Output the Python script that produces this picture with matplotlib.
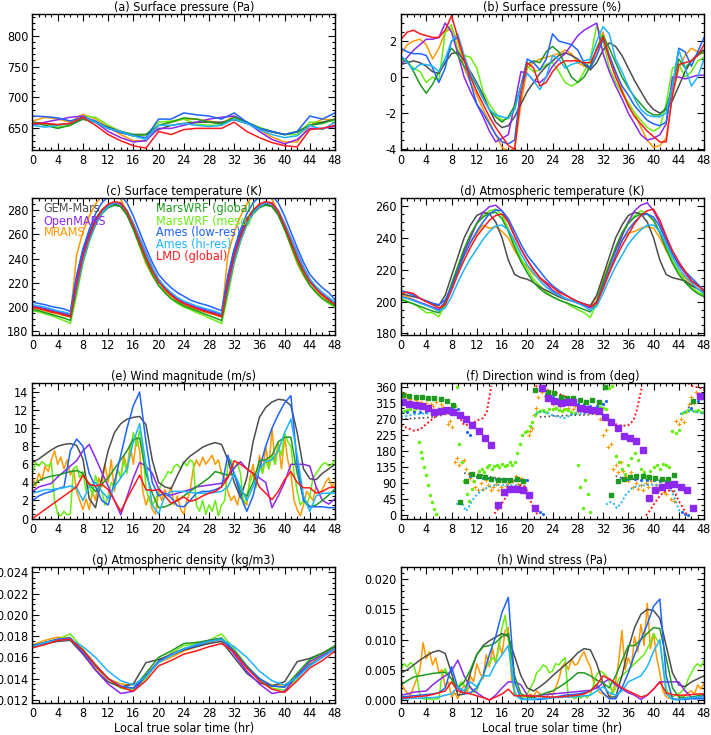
import numpy as np
import matplotlib
matplotlib.use('Agg')
from matplotlib import pyplot as plt
from matplotlib import font_manager
from matplotlib.ticker import MultipleLocator, FormatStrFormatter

# the reference uses a tall narrow font; use a narrow sans face when one is installed
narrow = []
for f in font_manager.fontManager.ttflist:
    st = str(f.stretch)
    if any(w in f.name for w in ('Mono', 'Serif', 'CJK', 'Math')):
        continue
    if str(f.weight) not in ('400', 'normal', 'regular') or f.style != 'normal':
        continue
    if 'Narrow' in f.name or 'Condensed' in f.name or st in ('condensed', 'semi-condensed'):
        narrow.append(f)
narrow.sort(key=lambda f: (f.name != 'Liberation Sans Narrow', f.name != 'DejaVu Sans', f.name))
if narrow:
    plt.rcParams['font.family'] = [narrow[0].name, 'DejaVu Sans']
    plt.rcParams['font.stretch'] = narrow[0].stretch
    fs = 9.5 if narrow[0].name == 'Liberation Sans Narrow' else 9
    legend_fs = fs
else:
    plt.rcParams['font.family'] = ['DejaVu Sans']
    fs = 8
    legend_fs = 7.3
plt.rcParams['axes.unicode_minus'] = False

models = ['GEM-Mars', 'OpenMARS', 'MRAMS', 'MarsWRF (global)', 'MarsWRF (meso)',
          'Ames (low-res)', 'Ames (hi-res)', 'LMD (global)']
colors = ['#4d4d4d', '#8c28f0', '#ff9900', '#1e9a1e', '#66ee11', '#1e64ff', '#1eb4ff', '#ff1a1a']

hours = np.arange(49)
hours2 = np.arange(0, 49, 2)
half_hours = np.arange(0, 48.5, 0.5)
square_hours = np.arange(48) + 0.3

# (a) surface pressure (Pa), every 2 h
gem_a = [660,658,656,658,665,660,652,645,640,640,648,655,658,660,660,660,664,658,650,644,640,644,655,660,665]
openmars_a = [655,660,664,668,670,660,645,635,628,630,650,650,655,660,665,668,670,660,645,632,625,632,650,650,653]
mrams_a = [662,668,665,660,673,665,652,640,630,630,655,660,665,665,662,658,670,660,648,636,628,628,655,665,663]
wrfg_a = [660,655,650,655,665,660,650,645,640,640,655,660,667,665,660,657,668,660,650,645,640,645,655,658,665]
wrfm_a = [658,658,652,655,670,668,655,645,637,640,660,662,665,657,655,655,667,660,652,645,640,640,660,660,663]
ameslo_a = [670,669,667,662,668,662,650,643,638,635,665,665,675,672,670,665,675,660,650,645,640,645,670,665,675]
ameshi_a = [655,652,655,658,668,660,650,645,638,632,655,655,658,655,653,655,665,658,648,640,635,638,655,648,660]
lmd_a = [658,658,656,658,668,655,640,630,622,618,645,640,648,650,650,650,660,645,635,627,622,620,648,650,655]

# (b) surface pressure (%), hourly
gem_b = [0.7,0.8,0.9,0.8,0.6,0.3,0.2,0.8,1.3,1.4,0.9,0.3,-0.3,-1.0,-1.8,-2.5,-2.8,-2.7,-2.2,-1.5,-0.8,-0.3,0.2,0.6,0.9,1.2,1.35,1.2,1.0,0.7,0.4,0.8,1.5,1.9,1.7,1.2,0.5,-0.2,-0.8,-1.4,-1.8,-2.0,-1.8,-1.3,-0.5,0.3,0.9,1.3,1.5]
openmars_b = [0.7,1.1,1.5,1.8,2.1,2.1,2.2,3.0,2.5,1.3,0.0,-0.8,-1.5,-2.2,-3.0,-3.6,-3.4,-3.2,-1.5,0.3,0.2,-0.2,-0.3,0.0,0.6,1.0,1.3,1.8,2.3,2.6,2.8,3.0,1.3,0.3,-0.5,-1.2,-2.0,-2.6,-3.2,-3.5,-3.4,-3.2,-2.6,0.0,0.0,-0.1,0.0,0.1,0.1]
mrams_b = [1.3,1.8,2.0,2.1,1.8,1.0,1.6,2.5,2.7,2.0,0.5,-0.3,-1.0,-1.8,-2.5,-3.2,-3.9,-4.1,-4.0,-1.5,0.5,0.8,1.0,1.1,1.2,1.3,1.5,1.3,0.8,0.6,0.6,1.5,2.5,1.2,0.2,-0.7,-1.5,-2.0,-2.8,-3.5,-3.9,-3.8,-3.4,-1.0,0.5,1.2,1.6,1.4,1.3]
wrfg_b = [1.1,0.9,0.3,-0.4,-0.9,-0.4,0.3,1.0,1.6,1.2,0.6,0.1,-0.5,-1.2,-1.8,-2.2,-2.5,-2.2,-1.6,-0.5,0.7,0.9,0.8,1.4,1.7,1.4,0.7,0.0,-0.3,0.0,0.6,1.6,2.3,1.6,0.8,0.0,-0.6,-1.1,-1.5,-1.9,-2.1,-2.1,-1.7,-0.5,1.0,0.5,0.9,1.2,1.4]
wrfm_b = [1.0,0.8,0.5,0.3,-0.3,0.0,-0.2,2.5,2.9,1.5,1.2,1.1,0.5,-0.8,-1.5,-2.0,-2.4,-2.3,-1.8,-0.5,0.6,0.3,0.4,0.7,0.8,0.3,-0.3,-0.5,-0.3,0.3,1.0,2.9,2.0,0.5,-0.3,-0.9,-1.4,-2.0,-2.4,-2.8,-3.0,-2.8,-1.5,0.5,0.7,0.0,0.3,0.9,1.1]
ameslo_b = [1.6,1.4,1.3,1.3,1.2,0.5,-0.3,0.5,2.0,2.2,1.0,-0.3,-1.5,-2.0,-2.6,-3.2,-3.6,-3.7,-3.5,-0.5,1.0,0.8,0.4,1.0,2.4,2.0,1.9,1.8,1.5,0.8,0.5,1.2,2.1,1.2,0.3,-0.5,-1.0,-1.6,-2.0,-2.4,-2.6,-2.7,-2.5,-0.5,1.6,1.4,0.6,1.4,2.2]
ameshi_b = [1.2,0.8,0.4,0.7,0.7,0.6,0.3,1.0,2.0,2.4,1.2,0.2,-0.4,-1.2,-1.8,-2.1,-2.2,-2.3,-1.8,-0.5,0.2,-0.2,-0.7,0.0,1.2,1.0,0.5,0.7,0.8,0.9,1.0,2.0,2.8,2.4,1.0,0.3,-0.5,-1.2,-1.8,-2.1,-2.2,-2.2,-2.0,-0.5,1.5,0.5,-0.5,0.0,1.0]
lmd_b = [2.1,2.5,2.6,2.4,2.3,2.2,2.2,2.6,3.4,2.2,1.0,0.0,-0.8,-1.5,-2.2,-2.8,-3.3,-3.8,-4.0,-1.0,0.8,0.5,-0.5,-0.3,0.3,0.7,0.9,0.9,0.9,0.8,0.8,1.5,2.2,1.0,0.0,-0.8,-1.6,-2.2,-2.6,-3.0,-3.3,-3.6,-3.6,-1.0,0.7,0.8,0.9,1.2,1.8]

# (c) surface temperature (K), hourly
gem_c = [200,199,198,196.5,195.5,194.5,193,225,247,261,273,280,284,285,283,276,265,253,241,230,221,215,210,206,203,201,199,197.5,196,194.5,193,225,247,261,273,280,284,285,283,276,265,253,241,230,221,215,210,206,203]
openmars_c = [201,200,199,197.5,196.5,195,194,222,244,259,271,279,283,286,285,279,269,257,245,233,223,216,211,207,204,202,200,198.5,197,195.5,194,222,244,259,271,279,283,286,285,279,269,257,245,233,223,216,211,207,204]
mrams_c = [199,198,197,195.5,194.5,193,192,243,262,275,285,292,296,295,289,279,265,250,236,226,218,213,209,205,202,200,198,196.5,195,193.5,192,243,262,275,285,292,296,295,289,279,265,250,236,226,218,213,209,205,200]
wrfg_c = [198,197,195.5,194,192.5,191,189,214,238,255,268,277,282,284,283,276,264,251,238,227,218,212,207,204,201,199,197,195,193,191,189,214,238,255,268,277,282,284,283,276,264,251,238,227,218,212,207,204,201]
wrfm_c = [197,196,194.5,193,191,189,186.5,210,236,254,268,278,284,286,285,278,265,251,238,227,218,212,207,203,200,198,195.5,193.5,191,189,186.5,210,236,254,268,278,284,286,285,278,265,251,238,227,218,212,207,203,200]
ameslo_c = [204,203,202,200.5,199.5,198.5,196.5,226,248,264,277,286,291,293,292,286,275,262,249,237,227,221,216,212,209,206,204,202.5,201,199,197,226,248,264,277,286,291,293,292,286,275,262,249,237,227,221,216,212,206]
ameshi_c = [202,201,200,198.5,197,196,194.5,215,238,255,268,278,283,286,286,280,269,257,244,233,223,217,212,208,205,203,201,199.5,198,196.5,194.5,215,238,255,268,278,283,286,286,280,269,257,244,233,223,217,212,208,204]
lmd_c = [200,199,197.5,196,195,193.5,192,218,242,258,271,280,285,287,286,279,267,254,241,230,221,215,210,206,203,201,199,197,195.5,194,192,218,242,258,271,280,285,287,286,279,267,254,241,230,221,215,210,206,202]

# (d) atmospheric temperature (K), hourly
gem_d = [205,204,203,202,200,198.5,197.5,204,216,228,240,248,254,256,255,250,240,226,217,215,214,212,209,207,205,203,201.5,200.5,199.5,198.5,197.5,204,216,228,240,248,254,256,255,250,240,226,217,215,214,213,210,208,206]
openmars_d = [203,202,201,199.5,198,196.5,195,200,210,221,231,240,249,256,259.5,260.5,257,250,241,233,226,220,215,211,207,204.5,202,200.5,199,197.5,196,200,211,222,232,241,250,257,260.5,262,257,249,240,230,223,218,213,210,207]
mrams_d = [204,203,201,199,198,196,194,200,210,220,229,237,243,248,246,247,244,240,232,226,222,217,214,211,207,205,202,200.5,199.5,198,196,203,214,224,232,239,243,244,246,247,246,240,232,225,219,215,211,208,205]
wrfg_d = [201,200,198.5,197,195.5,194,193,199,211,222,233,242,249,253,255.5,256,252,244,234,225,218,212,208,205,203,201,199.5,198,196.5,195,193.5,200,212,223,234,243,249,253,255,255,251,243,233,224,217,212,208,205,203]
wrfm_d = [202,200,198.5,196,193,193,190.5,198,210,222,233,242,249,254,257,258,254,246,236,227,220,214,210,206,203,201,199.5,197,195,193,190,199,211,223,234,243,250,254,257,255,251,244,235,226,219,213,209,206,204]
ameslo_d = [207,205.5,204,202,200.5,199,198,201,209,219,229,237,244,250,255,257.5,257,252,244,236,229,224,219,214,210,207,204.5,202,200,198.5,197,199,209,219,229,238,245,250,254,255,253,247,238,230,224,219,215,211,207]
ameshi_d = [203,202,200.5,199,197.5,196,194,196,203,212,220,227,233,239,244,247.5,248,245,238,230,223,218,213,209,206,204,202,200.5,199,197,194.5,197,205,214,222,229,236,241,245,248,248,244,236,228,221,216,212,208,205]
lmd_d = [205,206,205,202,200,198,196,198,207,217,226,234,241,246,251,254,255,250,241,233,226,220,215,212,209,206,204,202,200,198.5,197,199,208,218,227,235,242,249,254,257,258,251,241,232,225,219,213,210,207]

# (e) wind magnitude (m/s), hourly; MRAMS and MarsWRF meso every half hour
gem_e = [6.2,6.6,7.1,7.6,8.0,8.2,8.3,8.1,6.6,2.2,1.2,4.5,7.5,9.5,10.5,11.0,11.2,11.3,10.4,6.5,4.0,3.5,3.3,4.8,6.2,6.9,7.4,7.9,8.2,8.4,8.2,6.5,4.0,2.3,4.5,8.5,11.2,12.3,12.9,13.2,13.1,12.5,9.5,5.5,4.4,4.3,5.0,5.5,6.0]
openmars_e = [3.0,3.5,3.7,3.9,4.6,5.2,5.8,6.4,7.5,8.2,6.7,5.1,3.6,2.0,0.4,2.4,4.5,6.2,5.8,5.0,3.3,2.7,2.6,2.8,3.0,3.2,3.5,3.6,3.7,3.8,3.9,4.6,5.6,6.3,5.5,5.0,4.5,4.0,1.2,2.5,4.0,6.0,6.0,6.0,5.8,3.5,2.0,1.6,2.2]
mrams_e = [4.5,3.6,5.0,4.2,5.8,5.2,6.5,7.5,6.0,6.8,5.5,6.5,4.8,5.5,3.0,2.0,1.0,2.2,1.0,3.0,
           2.0,4.5,3.5,6.0,4.0,6.5,3.0,5.5,4.5,7.0,5.5,8.2,6.0,9.0,7.5,3.0,1.5,2.5,1.0,0.5,
           3.0,2.0,3.2,2.5,3.5,1.5,2.5,1.0,0.5,2.0,3.0,5.5,6.5,5.8,6.8,6.0,6.5,7.0,6.0,6.5,
           5.0,4.5,3.0,2.0,2.5,1.5,3.0,2.0,1.5,4.5,6.0,3.5,7.0,5.0,8.0,5.5,10.0,6.0,8.5,5.5,
           9.0,6.5,5.0,2.0,1.0,0.3,1.5,3.0,2.5,2.0,3.5,2.8,3.2,4.0,4.5,3.5,4.0]
wrfg_e = [3.6,4.2,4.5,4.7,4.8,5.0,5.2,5.3,5.0,3.8,3.0,3.8,4.5,5.5,6.5,7.5,8.8,8.9,5.0,2.8,1.2,1.3,1.6,2.0,2.5,3.0,3.5,4.0,4.5,5.2,5.0,4.8,5.0,3.0,2.5,4.0,6.4,6.5,7.0,8.5,9.0,9.0,5.0,2.2,1.3,1.5,2.0,2.6,3.3]
wrfm_e = [5.0,6.2,5.8,6.3,6.0,5.8,6.2,2.0,0.5,0.3,0.8,0.4,0.5,5.5,5.8,4.5,5.2,3.0,4.0,2.5,
          4.8,3.5,3.0,1.5,2.5,4.0,3.5,5.5,4.5,6.5,5.0,7.5,9.5,8.0,9.8,7.5,3.5,2.0,1.5,2.0,
          3.0,4.0,4.5,5.2,5.0,5.8,6.0,5.5,6.3,5.8,6.5,6.2,1.5,0.8,2.0,0.5,1.5,0.8,2.0,0.3,
          1.5,2.0,6.0,6.5,5.5,6.2,5.0,1.5,2.5,4.0,5.0,3.5,6.0,5.0,6.5,5.5,7.0,6.0,8.0,7.0,
          9.5,8.5,8.0,5.0,3.0,1.5,2.0,1.5,2.5,4.5,5.0,5.5,6.0,6.2,5.8,6.0,6.5]
ameslo_e = [2.0,2.5,2.8,3.0,3.3,3.5,7.5,8.8,8.0,5.0,3.5,2.0,1.5,4.0,7.0,10.0,12.5,14.0,8.5,4.0,2.5,2.8,2.3,1.4,1.3,2.0,2.8,3.0,3.0,3.2,3.5,7.0,5.0,2.5,0.8,2.5,5.5,8.0,10.0,11.5,12.8,13.6,6.0,2.0,1.3,1.3,1.3,1.2,1.2]
ameshi_e = [2.8,3.0,3.2,3.2,3.3,3.4,3.6,3.4,2.0,3.5,4.0,3.0,2.2,3.5,4.5,5.5,8.5,10.5,6.0,1.5,0.5,2.5,3.0,3.0,3.0,2.9,2.8,2.8,2.8,2.9,3.0,3.5,5.0,3.5,2.0,3.5,5.5,6.3,6.5,7.5,9.5,11.0,7.0,2.5,0.8,2.5,2.8,2.8,2.8]
lmd_e = [0.0,0.5,1.0,1.5,2.0,2.5,3.0,3.5,4.8,3.8,3.6,3.8,3.2,2.0,0.8,2.2,3.5,4.8,3.2,3.1,3.2,2.5,1.7,2.0,2.4,1.9,2.1,2.5,2.8,3.0,3.5,4.5,6.4,6.0,5.5,5.0,3.5,2.8,2.1,3.0,4.3,5.2,4.0,3.4,3.4,2.8,3.0,3.4,3.5]

# (f) direction wind is from (deg): (hour, deg) points, None marks a wrap-around
openmars_f = [318,310,308,306,299,290,292,294,288,280,269,252,236,215,198,30,65,74,74,72,58,22,355,328,320,313,318,318,300,297,295,292,275,260,243,222,215,208,182,48,72,78,85,88,80,72,22,335]
wrfg_f = [337,335,332,330,329,328,325,320,308,38,95,115,110,107,103,100,98,100,101,95,np.nan,350,355,346,341,330,327,327,322,318,322,318,358,58,95,103,108,110,110,107,105,103,103,112,np.nan,np.nan,320,330]
lmd_f = [(0,252),(1,244),(2,237),(3,240),(4,255),(5,270),(6,283),(7,295),(8,298),(9,282),(10,252),(11,255),(12,265),(13,272),(13.6,290),(14.0,330),(14.3,362),(None,None),
         (14.8,5),(15.5,20),(16,35),(17,60),(18,78),(19,85),(19.7,80),(20.3,50),(21,20),(21.7,0),(None,None),
         (21.3,362),(22,357),(23,350),(24,346),(25,340),(26,332),(27,320),(28,305),(29,298),(30,295),(31,292),(32,282),(33,268),(34,255),(35,250),(36,252),(36.8,265),(37.3,290),(37.8,330),(38.2,362),(None,None),
         (38.8,0),(39.5,15),(40,30),(41,55),(42,70),(43,68),(43.5,60),(44,40),(44.7,20),(45.3,0),(None,None),
         (45.5,370),(46,362),(47,358),(48,352)]
ameshi_f = [(0,276),(1,278),(2,282),(3,284),(4,285),(5,284),(6,283),(7,288),(8,290),(8.6,292),(None,None),
            (8.8,30),(9.3,40),(9.8,30),(10.3,12),(10.8,25),(11.3,42),(12,58),(13,72),(14,80),(15,85),(16,84),(17,84),(18,84),(19,84),(19.6,80),(None,None),
            (21.3,282),(22,290),(23,288),(24,280),(25,275),(26,272),(27,282),(28,285),(29,286),(30,288),(31,292),(31.8,298),(None,None),
            (32.5,30),(33,38),(33.6,35),(34.2,20),(35,38),(35.6,58),(36.5,75),(37.5,83),(38.5,84),(39.5,86),(40.5,85),(41.5,84),(42.5,80),(43.2,55),(43.7,30),(44.2,8),(None,None),
            (44.2,283),(45,290),(46,292),(47,288),(48,285)]
gem_f = [(0,270),(1,270),(2,271),(3,272),(4,273),(5,275),(6,278),(7,283),(8,285),(8.8,288),(None,None),
         (10,118),(11,117),(12,115),(13,112),(14,108),(15,105),(16,103),(17,100),(18,98),(19,98),(19.8,97),(None,None),
         (22,275),(23,276),(24,278),(25,278),(26,279),(27,280),(28,280),(29,281),(30,282),(31,285),(31.8,290),(None,None),
         (34,110),(35,105),(36,102),(37,101),(38,100),(39,100),(40,99),(41,98),(42,95),(43,90),(43.5,55),(None,None),
         (45.5,300),(46,312),(47,325),(48,330)]
ameslo_f = [(0,290),(1,288),(2,288),(3,289),(4,290),(5,290),(6,292),(7,294),(8,296),(9,298),(10.5,234),(11,224),
            (11,110),(12,108),(13,105),(14,104),(15,103),(16,102),(17,101),(18,100),(19,100),(20,100),
            (21,15),(22,10),(22.5,5),(22.5,350),(23,340),(24,330),(25,325),(26,318),(27,315),(28,312),(29,310),(30,305),(31,305),(32,312),(32.5,320),
            (35,105),(36,103),(37,102),(38,100),(39,99),(40,98),(41,97),(42,95),(43,90),(44.5,10),(45,5),(45.5,2),(46,300),(47,320),(48,355)]
mrams_f = [(0.2,342),(0.5,330),(0.8,338),(1.2,320),(1.5,326),(1.9,315),(2.3,322),(2.7,312),(3.1,318),(3.5,308),(3.9,315),(4.3,300),(4.7,312),
           (5.1,305),(5.5,318),(5.9,298),(6.3,310),(6.7,302),(7.1,285),(7.4,255),(7.7,265),(8.1,248),(8.5,150),(8.8,160),(9.2,140),(9.6,148),
           (10.0,155),(10.3,130),(10.7,115),(11.0,105),(11.4,95),(11.8,80),(12.2,70),(12.6,90),(13.0,75),(13.4,100),(13.8,85),(14.2,70),(14.6,80),
           (15.0,88),(15.4,72),(15.8,78),(16.2,95),(16.6,82),(17.0,90),(17.4,75),(17.8,95),(18.2,110),(18.6,88),(19.0,105),(19.4,80),(19.8,70),
           (20.2,225),(20.5,235),(20.8,245),(21.1,280),(21.4,300),(21.7,330),(22.0,350),(22.4,345),(22.8,335),(23.2,350),(23.6,330),
           (24.0,310),(24.4,300),(24.8,315),(25.2,305),(25.6,295),(26.0,310),(26.4,300),(26.8,312),(27.2,298),(27.6,305),(28.0,292),(28.4,300),
           (28.8,295),(29.2,290),(29.6,300),(30.0,290),(30.4,295),(30.8,285),(31.2,300),(31.6,270),(32.0,225),(32.4,240),(32.8,190),(33.2,200),
           (33.6,130),(34.0,140),(34.4,120),(34.8,150),(35.2,125),(35.6,110),(36.0,95),(36.4,120),(36.8,80),(37.2,90),(37.6,75),(38.0,85),
           (38.4,70),(38.8,90),(39.2,80),(39.6,95),(40.0,75),(40.4,85),(40.8,70),(41.2,85),(41.6,65),(42.0,60),(42.4,80),(42.8,45),(43.2,40),
           (43.6,265),(44.0,255),(44.4,270),(44.8,260),(45.2,290),(45.6,310),(46.0,330),(46.4,315),(46.8,345),(47.2,340),(47.6,330),(48.0,350)]
wrfm_f = [(0,290),(0.5,293),(1,295),(1.5,297),(2,292),(2.4,300),(2.8,205),(3.1,178),(3.4,160),(3.7,135),(4.0,112),(4.3,84),(4.6,56),(4.9,37),
          (5.2,19),(5.5,5),(6.0,290),(6.5,295),(7.0,298),(7.5,292),(8.0,300),(8.5,305),(8.8,360),(9.2,200),(9.6,150),(10.0,95),(10.4,60),
          (10.8,40),(11.2,75),(11.6,95),(12.0,110),(12.4,125),(12.8,130),(13.2,120),(13.6,135),(14.0,140),(14.4,130),(14.8,138),(15.2,140),
          (15.6,135),(16.0,145),(16.4,138),(16.8,142),(17.2,148),(17.6,140),(18.0,150),(18.4,175),(18.8,200),(19.2,225),(19.6,232),(20.0,235),
          (20.4,250),(20.8,262),(21.2,280),(21.6,290),(22.0,292),(22.5,295),(23.0,290),(23.5,296),(24.0,298),(24.5,300),(25.0,295),(25.5,292),
          (26.0,298),(26.5,294),(27.0,290),(27.5,285),(28.0,140),(28.4,80),(28.8,20),(29.2,100),(29.6,60),(30.0,10),(30.5,300),(31.0,305),
          (31.5,302),(32.0,300),(32.5,298),(33.0,355),(33.5,362),(34.0,165),(34.5,150),(35.0,130),(35.5,115),(36.0,140),(36.5,160),(37.0,175),
          (37.5,155),(38.0,130),(38.5,120),(39.0,110),(39.5,125),(40.0,135),(40.5,140),(41.0,130),(41.5,145),(42.0,140),(42.5,135),(43.0,235),
          (43.5,230),(44.0,240),(44.5,285),(45.0,290),(45.5,295),(46.0,298),(46.5,292),(47.0,295),(47.5,290),(48.0,288)]

# (g) atmospheric density (kg/m3), every 2 h
gem_g = [0.0171,0.0173,0.0175,0.0176,0.0163,0.0148,0.0137,0.0132,0.0135,0.0155,0.0158,0.0162,0.0167,0.0170,0.0173,0.0175,0.0160,0.0145,0.0136,0.0133,0.0137,0.0156,0.0159,0.0164,0.0170]
openmars_g = [0.0170,0.0174,0.0177,0.0178,0.0164,0.0148,0.0135,0.0126,0.0128,0.0143,0.0156,0.0163,0.0168,0.0172,0.0176,0.0178,0.0163,0.0147,0.0135,0.0126,0.0128,0.0143,0.0156,0.0162,0.0168]
mrams_g = [0.0172,0.0176,0.0179,0.0178,0.0164,0.0150,0.0140,0.0135,0.0134,0.0142,0.0155,0.0160,0.0166,0.0170,0.0174,0.0177,0.0164,0.0150,0.0139,0.0134,0.0134,0.0142,0.0154,0.0161,0.0168]
wrfg_g = [0.0171,0.0174,0.0176,0.0178,0.0166,0.0152,0.0140,0.0132,0.0131,0.0145,0.0160,0.0166,0.0173,0.0174,0.0176,0.0178,0.0166,0.0152,0.0140,0.0133,0.0132,0.0145,0.0158,0.0164,0.0171]
wrfm_g = [0.0170,0.0174,0.0177,0.0182,0.0168,0.0153,0.0140,0.0131,0.0129,0.0140,0.0157,0.0164,0.0171,0.0173,0.0176,0.0182,0.0168,0.0152,0.0139,0.0131,0.0129,0.0140,0.0156,0.0163,0.0170]
ameslo_g = [0.0171,0.0174,0.0177,0.0178,0.0166,0.0152,0.0140,0.0133,0.0131,0.0142,0.0156,0.0162,0.0168,0.0171,0.0175,0.0177,0.0166,0.0151,0.0140,0.0133,0.0132,0.0142,0.0153,0.0160,0.0168]
ameshi_g = [0.0170,0.0174,0.0176,0.0177,0.0170,0.0160,0.0147,0.0138,0.0134,0.0142,0.0155,0.0162,0.0168,0.0172,0.0175,0.0177,0.0170,0.0160,0.0147,0.0138,0.0134,0.0141,0.0152,0.0160,0.0168]
lmd_g = [0.0169,0.0172,0.0176,0.0177,0.0167,0.0153,0.0140,0.0132,0.0128,0.0138,0.0152,0.0157,0.0163,0.0166,0.0170,0.0173,0.0165,0.0150,0.0138,0.0130,0.0127,0.0138,0.0150,0.0157,0.0166]

# (h) wind stress (Pa), hourly; MRAMS and MarsWRF meso every half hour
gem_h = [0.0045,0.0050,0.0058,0.0066,0.0073,0.0079,0.0082,0.0077,0.0045,0.0008,0.0010,0.0045,0.0075,0.0090,0.0098,0.0104,0.0110,0.0105,0.0072,0.0040,0.0020,0.0015,0.0022,0.0030,0.0040,0.0049,0.0058,0.0067,0.0078,0.0085,0.0083,0.0060,0.0028,0.0005,0.0005,0.0040,0.0085,0.0120,0.0142,0.0150,0.0148,0.0135,0.0090,0.0045,0.0025,0.0022,0.0030,0.0035,0.0040]
openmars_h = [0.0008,0.0010,0.0013,0.0014,0.0015,0.0025,0.0033,0.0040,0.0048,0.0066,0.0040,0.0020,0.0012,0.0005,0.0000,0.0008,0.0020,0.0030,0.0030,0.0025,0.0008,0.0006,0.0008,0.0009,0.0010,0.0011,0.0012,0.0013,0.0014,0.0015,0.0016,0.0020,0.0028,0.0035,0.0025,0.0018,0.0012,0.0008,0.0001,0.0008,0.0018,0.0030,0.0030,0.0030,0.0030,0.0015,0.0005,0.0003,0.0008]
mrams_h = [0.0030,0.0018,0.0012,0.0008,0.0022,0.0035,0.0050,0.0095,0.0068,0.0080,0.0058,0.0070,0.0045,0.0050,0.0022,0.0030,0.0005,0.0012,0.0002,0.0015,
           0.0025,0.0012,0.0040,0.0030,0.0060,0.0045,0.0035,0.0075,0.0055,0.0085,0.0060,0.0095,0.0075,0.0115,0.0120,0.0035,0.0010,0.0006,0.0004,0.0008,
           0.0004,0.0010,0.0006,0.0015,0.0010,0.0005,0.0004,0.0012,0.0008,0.0020,0.0035,0.0055,0.0062,0.0050,0.0068,0.0058,0.0060,0.0072,0.0080,0.0065,
           0.0055,0.0030,0.0020,0.0012,0.0010,0.0006,0.0004,0.0015,0.0030,0.0065,0.0115,0.0050,0.0070,0.0055,0.0105,0.0080,0.0125,0.0090,0.0160,0.0085,
           0.0110,0.0070,0.0045,0.0015,0.0005,0.0003,0.0002,0.0001,0.0001,0.0003,0.0008,0.0012,0.0015,0.0010,0.0025,0.0018,0.0028]
wrfg_h = [0.0025,0.0032,0.0038,0.0040,0.0042,0.0044,0.0045,0.0046,0.0035,0.0020,0.0030,0.0050,0.0075,0.0088,0.0090,0.0095,0.0105,0.0110,0.0040,0.0010,0.0005,0.0004,0.0008,0.0012,0.0015,0.0021,0.0028,0.0036,0.0045,0.0045,0.0040,0.0033,0.0028,0.0020,0.0040,0.0065,0.0090,0.0090,0.0100,0.0110,0.0120,0.0118,0.0070,0.0020,0.0005,0.0004,0.0005,0.0007,0.0010]
wrfm_h = [0.0050,0.0060,0.0055,0.0062,0.0058,0.0040,0.0008,0.0002,0.0001,0.0002,0.0001,0.0002,0.0002,0.0042,0.0052,0.0040,0.0035,0.0025,0.0020,0.0030,
          0.0025,0.0018,0.0022,0.0012,0.0015,0.0030,0.0040,0.0055,0.0060,0.0070,0.0065,0.0085,0.0120,0.0140,0.0100,0.0060,0.0015,0.0005,0.0003,0.0005,
          0.0010,0.0020,0.0030,0.0045,0.0050,0.0058,0.0055,0.0045,0.0048,0.0060,0.0058,0.0065,0.0070,0.0004,0.0008,0.0002,0.0006,0.0003,0.0008,0.0004,
          0.0010,0.0025,0.0042,0.0048,0.0045,0.0040,0.0030,0.0010,0.0020,0.0035,0.0040,0.0045,0.0050,0.0055,0.0060,0.0065,0.0070,0.0075,0.0085,0.0095,
          0.0110,0.0100,0.0095,0.0060,0.0020,0.0008,0.0005,0.0008,0.0010,0.0015,0.0020,0.0035,0.0045,0.0055,0.0060,0.0055,0.0065]
ameslo_h = [0.0005,0.0006,0.0007,0.0008,0.0009,0.0010,0.0012,0.0020,0.0055,0.0020,0.0010,0.0012,0.0020,0.0040,0.0075,0.0105,0.0145,0.0170,0.0030,0.0002,0.0001,0.0001,0.0001,0.0002,0.0004,0.0006,0.0008,0.0009,0.0010,0.0012,0.0015,0.0025,0.0012,0.0002,0.0002,0.0020,0.0045,0.0075,0.0100,0.0125,0.0155,0.0167,0.0040,0.0002,0.0001,0.0001,0.0002,0.0002,0.0002]
ameshi_h = [0.0002,0.0002,0.0003,0.0003,0.0004,0.0004,0.0005,0.0008,0.0010,0.0022,0.0015,0.0030,0.0022,0.0040,0.0040,0.0060,0.0075,0.0090,0.0010,0.0001,0.0001,0.0001,0.0003,0.0003,0.0004,0.0004,0.0005,0.0005,0.0006,0.0007,0.0008,0.0015,0.0022,0.0012,0.0008,0.0015,0.0030,0.0035,0.0040,0.0055,0.0080,0.0100,0.0010,0.0001,0.0000,0.0003,0.0004,0.0005,0.0005]
lmd_h = [0.0003,0.0004,0.0005,0.0006,0.0007,0.0009,0.0012,0.0015,0.0030,0.0015,0.0012,0.0010,0.0007,0.0004,0.0000,0.0005,0.0010,0.0018,0.0007,0.0007,0.0007,0.0006,0.0006,0.0005,0.0005,0.0005,0.0006,0.0007,0.0008,0.0010,0.0015,0.0025,0.0040,0.0035,0.0028,0.0020,0.0015,0.0010,0.0005,0.0008,0.0018,0.0030,0.0012,0.0009,0.0008,0.0008,0.0009,0.0010,0.0010]

line_panels = {
    'a': ('(a) Surface pressure (Pa)', hours2,
          [gem_a, openmars_a, mrams_a, wrfg_a, wrfm_a, ameslo_a, ameshi_a, lmd_a]),
    'b': ('(b) Surface pressure (%)', hours,
          [gem_b, openmars_b, mrams_b, wrfg_b, wrfm_b, ameslo_b, ameshi_b, lmd_b]),
    'c': ('(c) Surface temperature (K)', hours,
          [gem_c, openmars_c, mrams_c, wrfg_c, wrfm_c, ameslo_c, ameshi_c, lmd_c]),
    'd': ('(d) Atmospheric temperature (K)', hours,
          [gem_d, openmars_d, mrams_d, wrfg_d, wrfm_d, ameslo_d, ameshi_d, lmd_d]),
    'e': ('(e) Wind magnitude (m/s)', hours,
          [gem_e, openmars_e, mrams_e, wrfg_e, wrfm_e, ameslo_e, ameshi_e, lmd_e]),
    'g': ('(g) Atmospheric density (kg/m3)', hours2,
          [gem_g, openmars_g, mrams_g, wrfg_g, wrfm_g, ameslo_g, ameshi_g, lmd_g]),
    'h': ('(h) Wind stress (Pa)', hours,
          [gem_h, openmars_h, mrams_h, wrfg_h, wrfm_h, ameslo_h, ameshi_h, lmd_h]),
}

# y range, major step, minor step, tick format
yaxis = {
    'a': ((615, 835), 50, 10, None),
    'b': ((-4.05, 3.5), 2, 0.5, None),
    'c': ((177, 290), 20, 5, None),
    'd': ((179, 265), 20, 5, None),
    'e': ((-0.05, 15), 2, 0.5, None),
    'f': ((-10, 370), 45, 15, None),
    'g': ((0.0117, 0.0245), 0.002, 0.0005, '%.3f'),
    'h': ((-0.0005, 0.022), 0.005, 0.001, '%.3f'),
}

fig = plt.figure(figsize=(7.11, 7.35), dpi=100)
col_x = [0.0457, 0.564]
col_w = [0.4255, 0.4262]
row_y = [0.7959, 0.5442, 0.2939, 0.0435]
row_h = [0.185, 0.1864, 0.185, 0.185]
layout = [['a', 'b'], ['c', 'd'], ['e', 'f'], ['g', 'h']]

axes = {}
for r, row in enumerate(layout):
    for c, key in enumerate(row):
        axes[key] = fig.add_axes([col_x[c], row_y[r], col_w[c], row_h[r]])


def style_axes(ax, key):
    lim, major, minor, fmt = yaxis[key]
    ax.set_xlim(0, 48)
    ax.set_ylim(*lim)
    ax.xaxis.set_major_locator(MultipleLocator(4))
    ax.xaxis.set_minor_locator(MultipleLocator(1))
    ax.yaxis.set_major_locator(MultipleLocator(major))
    ax.yaxis.set_minor_locator(MultipleLocator(minor))
    if fmt:
        ax.yaxis.set_major_formatter(FormatStrFormatter(fmt))
    ax.tick_params(which='both', direction='in', top=True, right=True, width=0.8,
                   labelsize=fs, pad=3)
    ax.tick_params(which='major', length=5)
    ax.tick_params(which='minor', length=2.5)
    for s in ax.spines.values():
        s.set_linewidth(1.0)


# noisy models first so the smooth ones sit on top
draw_order = [2, 4, 0, 1, 3, 5, 6, 7]

for key, (title, tgrid, series) in line_panels.items():
    ax = axes[key]
    for i in draw_order:
        y = series[i]
        x = half_hours if len(y) == len(half_hours) else tgrid
        ax.plot(x, y, color=colors[i], lw=1.1)
    ax.set_title(title, fontsize=fs, pad=2)
    style_axes(ax, key)

# panel (f): scatter of wind direction
ax = axes['f']


def unpack(points):
    arr = np.array([(np.nan, np.nan) if p[0] is None else p for p in points], dtype=float)
    return arr[:, 0], arr[:, 1]


x, y = unpack(mrams_f)
ax.plot(x, y, ls='none', marker='+', ms=2.5, mew=0.8, color=colors[2])
x, y = unpack(wrfm_f)
ax.plot(x, y, ls='none', marker='.', ms=3, color=colors[4])
x, y = unpack(gem_f)
ax.plot(x, y, ls=(0, (1, 1.6)), lw=1.2, color=colors[0])
x, y = unpack(ameslo_f)
ax.plot(x, y, ls='none', marker='.', ms=2.5, color=colors[5])
x, y = unpack(ameshi_f)
ax.plot(x, y, ls=(0, (1, 1.2)), lw=1.4, color=colors[6])
x, y = unpack(lmd_f)
ax.plot(x, y, ls=(0, (1, 1.2)), lw=1.4, color=colors[7])
ax.plot(square_hours, wrfg_f, ls='none', marker='s', ms=3.2, color=colors[3])
ax.plot(square_hours, openmars_f, ls='none', marker='s', ms=4.3, color=colors[1])
ax.set_title('(f) Direction wind is from (deg)', fontsize=fs, pad=2)
style_axes(ax, 'f')

# legend in panel (c) as coloured text
ax = axes['c']
legend_x = [1.8, 1.8, 1.8, 19.6, 19.6, 19.6, 19.6, 19.6]
legend_y = [281, 271, 261.4, 281, 271, 261.4, 251.4, 241.7]
for i, name in enumerate(models):
    ax.text(legend_x[i], legend_y[i], name, color=colors[i], fontsize=legend_fs, va='center', zorder=5)

axes['g'].set_xlabel('Local true solar time (hr)', fontsize=fs, labelpad=1)
axes['h'].set_xlabel('Local true solar time (hr)', fontsize=fs, labelpad=1)

fig.savefig('out.png', dpi=100)
